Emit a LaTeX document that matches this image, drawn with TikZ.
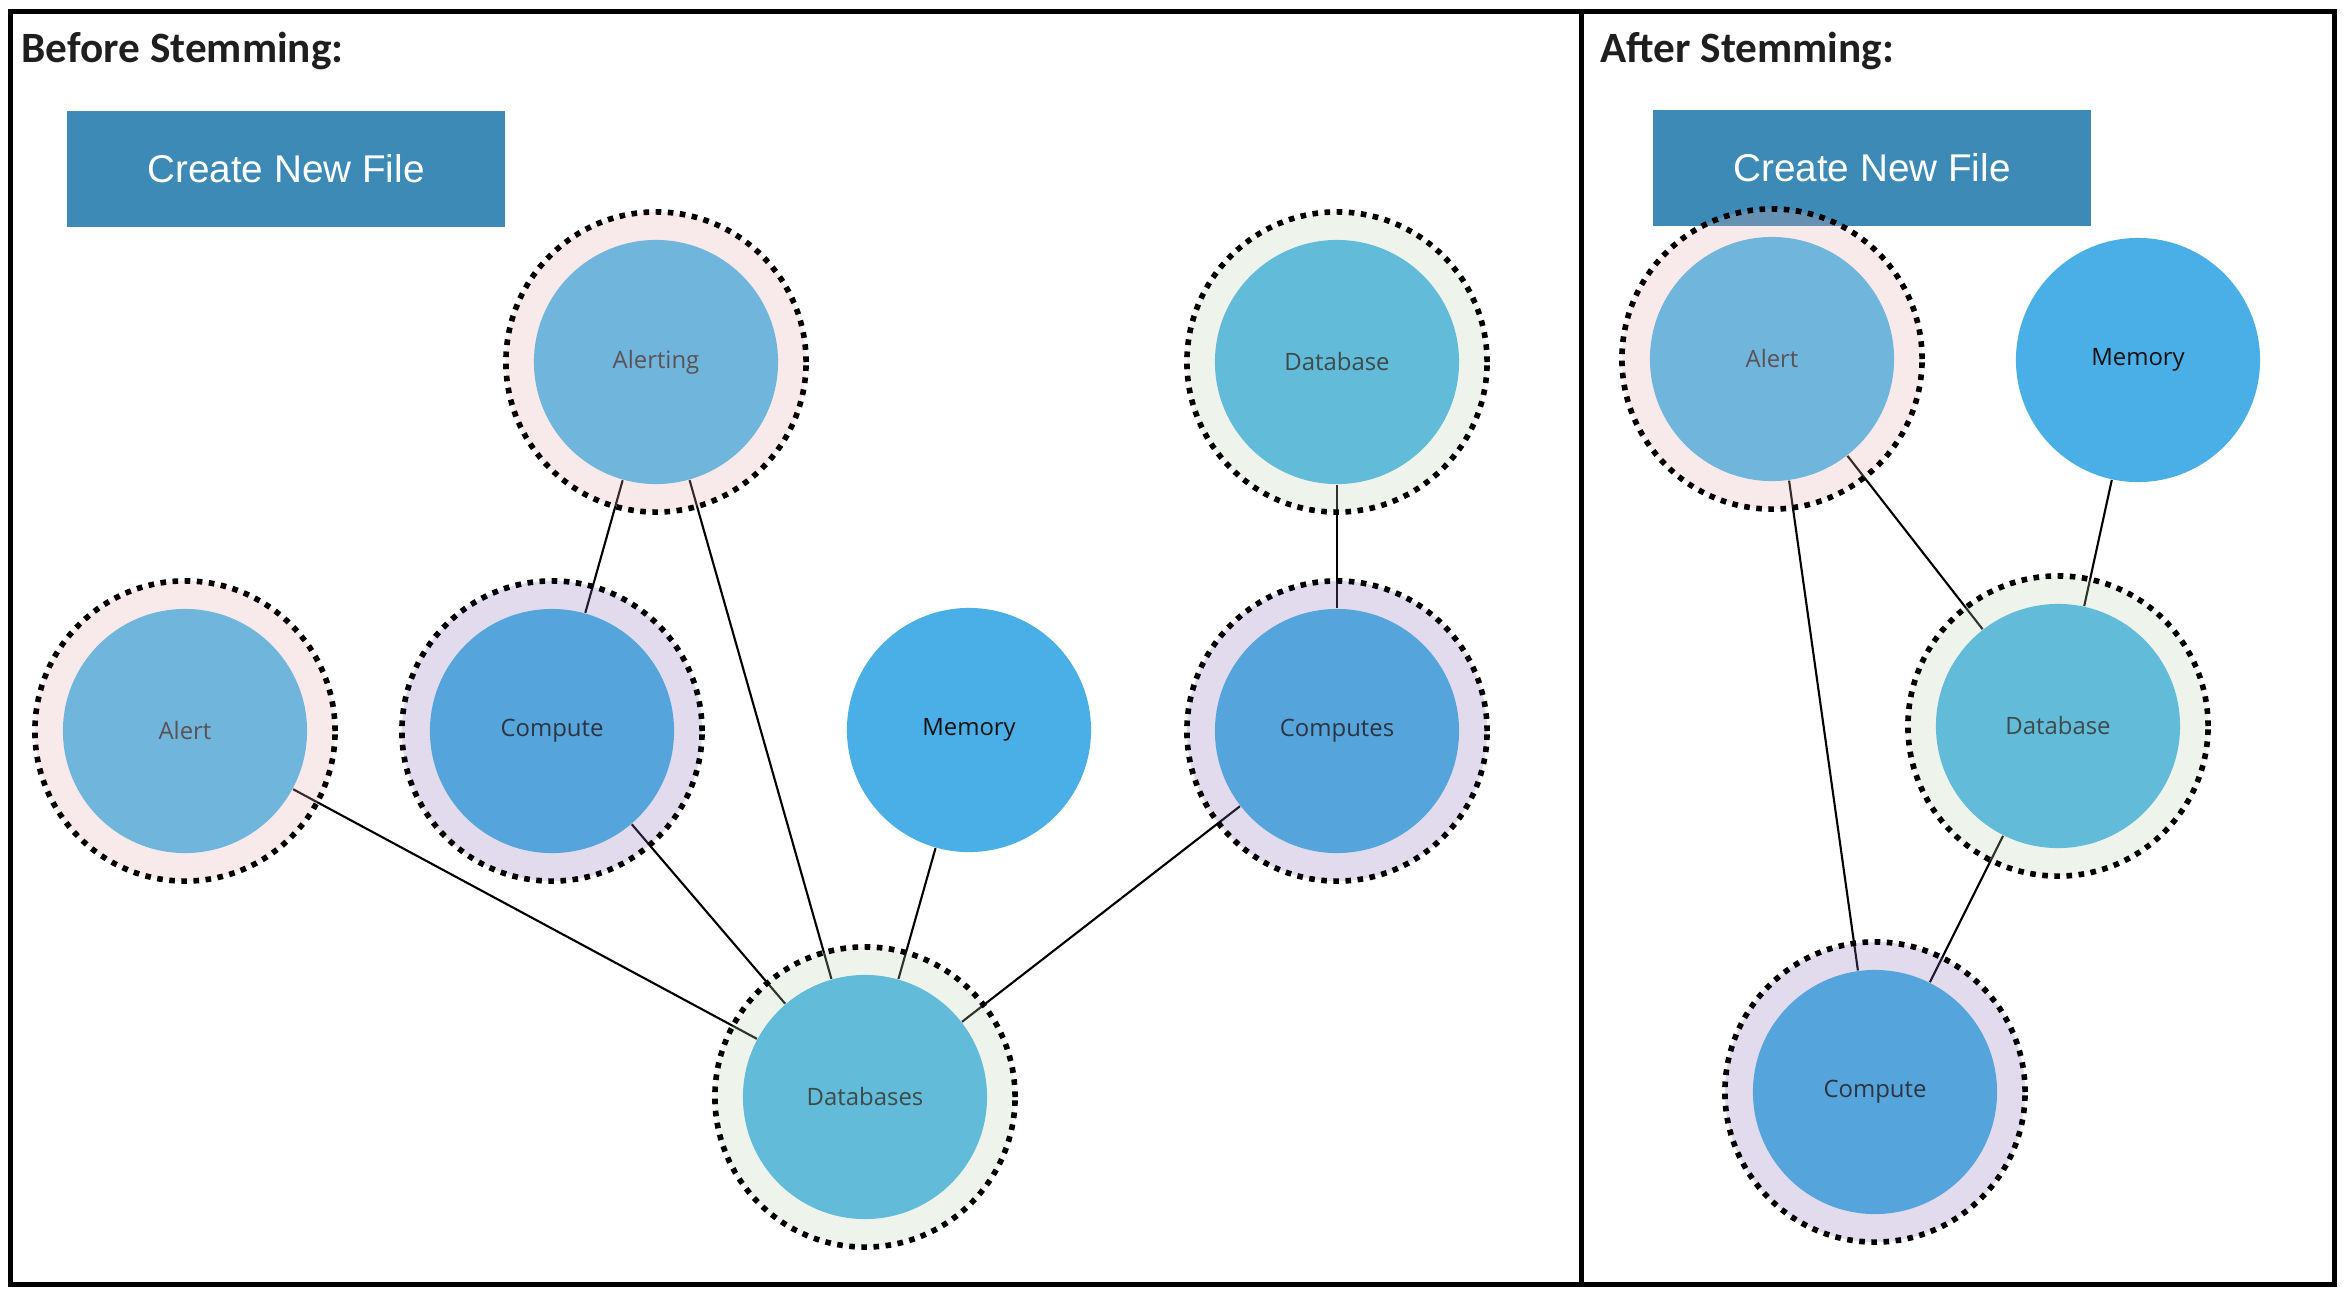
\documentclass[tikz,border=0pt]{standalone}
\usepackage{fontspec}
\newfontfamily\labelfont{Open Sans}
\newfontfamily\buttonfont{Liberation Sans}
\newfontfamily\titlefont{Carlito}
\definecolor{alertblue}{HTML}{70B5DC}
\definecolor{dbblue}{HTML}{62BBD8}
\definecolor{computeblue}{HTML}{55A4DC}
\definecolor{memoryblue}{HTML}{4AAFE6}
\definecolor{buttonblue}{HTML}{3D8AB6}
\definecolor{alerttext}{RGB}{92,82,86}
\definecolor{dbtext}{RGB}{62,74,74}
\definecolor{computetext}{RGB}{44,52,64}
\definecolor{pinkfill}{RGB}{227,167,171}
\definecolor{greenfill}{RGB}{187,211,179}
\definecolor{purplefill}{RGB}{139,111,183}
\pgfdeclarelayer{back}
\pgfdeclarelayer{rings}
\pgfsetlayers{back,rings,main}

\tikzset{
  word/.style={circle, minimum size=2.44cm, inner sep=0pt, font=\labelfont\fontsize{6.8}{8}\selectfont},
  alertword/.style={word, fill=alertblue, text=alerttext},
  dbword/.style={word, fill=dbblue, text=dbtext},
  computeword/.style={word, fill=computeblue, text=computetext},
  memoryword/.style={word, fill=memoryblue, text=black!93},
  ring/.style={circle, minimum size=3cm, inner sep=0pt, draw=black, line width=1.6pt, dash pattern=on 1.6pt off 1.85pt, fill opacity=0.25},
  pinkring/.style={ring, fill=pinkfill},
  greenring/.style={ring, fill=greenfill},
  purplering/.style={ring, fill=purplefill},
  button/.style={fill=buttonblue, text=white, minimum width=4.37cm, minimum height=1.15cm, inner sep=0pt, font=\buttonfont\fontsize{11}{13}\selectfont},
  heading/.style={anchor=base west, inner sep=0pt, font=\titlefont\bfseries\fontsize{12.3}{14}\selectfont, text=black!88},
  frame/.style={line width=1.42pt},
  link/.style={line width=0.6pt}
}

\begin{document}
\begin{tikzpicture}[x=0.01cm, y=-0.01cm]
\useasboundingbox (0,0) rectangle (2344,1296);

% words before stemming
\node[alertword] (alerting) at (656,362) {Alerting};
\node[dbword] (database) at (1337,362) {Database};
\node[alertword] (alert) at (185,731) {Alert};
\node[computeword] (compute) at (552,731) {Compute};
\node[memoryword] (memory) at (969,730) {Memory};
\node[computeword] (computes) at (1337,731) {Computes};
\node[dbword] (databases) at (865,1097) {Databases};

% words after stemming
\node[alertword] (alertB) at (1772,359) {Alert};
\node[memoryword] (memoryB) at (2138,360) {Memory};
\node[dbword] (databaseB) at (2058,726) {Database};
\node[computeword] (computeB) at (1875,1092) {Compute};

\begin{pgfonlayer}{rings}
\foreach \w/\r in {alerting/pinkring, database/greenring, alert/pinkring,
  compute/purplering, computes/purplering, databases/greenring,
  alertB/pinkring, databaseB/greenring, computeB/purplering}
  \node[\r] at (\w) {};
\end{pgfonlayer}

\begin{pgfonlayer}{back}
\draw[frame] (10.5,11) rectangle (1581,1284.5);
\draw[frame] (1581,11) rectangle (2334.5,1284.5);
\node[heading] (before) at (21,62) {Before Stemming:};
\node[heading] (after) at (1600,62) {After Stemming:};
\node[button] (createA) at (286,169) {Create New File};
\node[button] (createB) at (1872,168) {Create New File};

\draw[link] (alerting) -- (compute);
\draw[link] (alerting) -- (databases);
\draw[link] (alert) -- (databases);
\draw[link] (compute) -- (databases);
\draw[link] (memory) -- (databases);
\draw[link] (computes) -- (databases);
\draw[link] (database) -- (computes);

\draw[link] (alertB) -- (databaseB);
\draw[link] (alertB) -- (computeB);
\draw[link] (memoryB) -- (databaseB);
\draw[link] (databaseB) -- (computeB);
\end{pgfonlayer}
\end{tikzpicture}
\end{document}
